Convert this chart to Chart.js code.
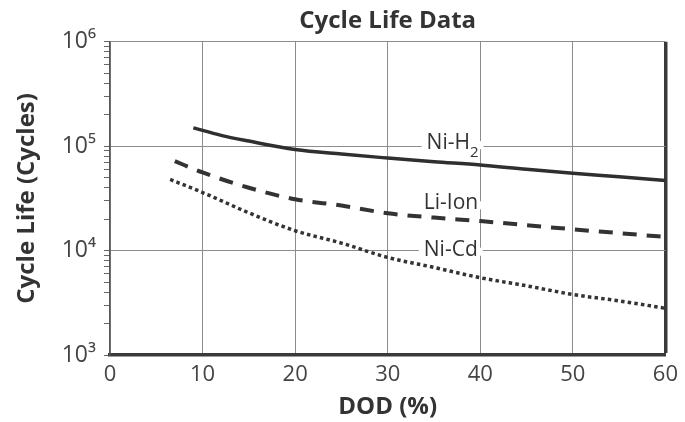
<!DOCTYPE html>
<html>
<head>
<meta charset="utf-8">
<script src="https://cdn.jsdelivr.net/npm/chart.js@4"></script>
<style>
  html, body { margin: 0; padding: 0; background: #fff; }
</style>
</head>
<body>
<canvas id="chart1" width="685" height="422"></canvas>
<script>
// x ticks and log-decade labels
const dodTicks = [0, 10, 20, 30, 40, 50, 60];
const lifeTickLabels = ['10³', '10⁴', '10⁵', '10⁶'];

// series (DOD %, cycles)
const nih2Dod  = [9, 12, 15, 20, 25, 30, 35, 40, 45, 50, 55, 60];
const nih2Life = [150000, 127000, 112000, 93000, 84000, 77000, 71000, 66000, 60000, 55000, 51000, 47000];

const liionDod  = [7, 10, 15, 20, 25, 30, 35, 40, 45, 50, 55, 60];
const liionLife = [72000, 56000, 40000, 31000, 27000, 22800, 20700, 19200, 17500, 16000, 14700, 13500];

const nicdDod  = [6.5, 10, 15, 20, 25, 30, 35, 40, 45, 50, 55, 60];
const nicdLife = [48000, 36000, 23000, 15500, 11800, 8600, 6900, 5500, 4600, 3800, 3300, 2800];

const seriesNames = ['Ni-H₂', 'Li-Ion', 'Ni-Cd'];
// in-plot labels: [text, subscript]
const curveLabelText = [['Ni-H', '2'], ['Li-Ion', ''], ['Ni-Cd', '']];
const curveLabelDod  = [34.2, 33.9, 33.9];
const curveLabelLife = [107000, 28400, 10200];

const FONT = '"Open Sans", "Noto Sans", sans-serif';

function toPoints(xs, ys) {
  return xs.map((x, i) => ({ x: x, y: ys[i] }));
}

// labels sit on the chart, with the grid line cut out behind them
const curveLabels = {
  id: 'curveLabels',
  beforeDatasetsDraw(chart) {
    const { ctx, scales: { x, y } } = chart;
    ctx.save();
    ctx.textBaseline = 'middle';
    ctx.textAlign = 'left';
    curveLabelText.forEach((t, i) => {
      const px = x.getPixelForValue(curveLabelDod[i]);
      const py = y.getPixelForValue(curveLabelLife[i]);
      ctx.font = '21px ' + FONT;
      const w1 = ctx.measureText(t[0]).width;
      ctx.font = '15px ' + FONT;
      const w2 = t[1] ? ctx.measureText(t[1]).width : 0;
      ctx.fillStyle = '#fff';
      ctx.fillRect(px - 5, py - 2, w1 + w2 + 10, 8);
      ctx.fillStyle = '#333';
      ctx.font = '21px ' + FONT;
      ctx.fillText(t[0], px, py);
      if (t[1]) {
        ctx.font = '15px ' + FONT;
        ctx.fillText(t[1], px + w1, py + 10);
      }
    });
    ctx.restore();
  }
};

const ctx1 = document.getElementById('chart1').getContext('2d');
const chart1 = new Chart(ctx1, {
  type: 'line',
  data: {
    datasets: [{
      label: seriesNames[0],
      data: toPoints(nih2Dod, nih2Life),
      borderColor: '#2f2f2f',
      borderWidth: 3.5,
    }, {
      label: seriesNames[1],
      data: toPoints(liionDod, liionLife),
      borderColor: '#333',
      borderWidth: 4,
      borderDash: [14, 10],
    }, {
      label: seriesNames[2],
      data: toPoints(nicdDod, nicdLife),
      borderColor: '#333',
      borderWidth: 3.5,
      borderDash: [3.5, 3.2],
    }]
  },
  options: {
    responsive: false,
    animation: false,
    layout: { padding: { left: 0, right: 17, top: 0, bottom: 0 } },
    elements: {
      point: { radius: 0 },
      line: { cubicInterpolationMode: 'monotone', fill: false, borderCapStyle: 'butt' }
    },
    plugins: {
      legend: { display: false },
      tooltip: { enabled: false },
      title: {
        display: true,
        text: 'Cycle Life Data',
        fullSize: false,
        color: '#333',
        font: { family: FONT, size: 24, weight: 'bold' },
        padding: { top: 7, bottom: 6 }
      }
    },
    scales: {
      x: {
        type: 'linear',
        min: 0,
        max: 60,
        afterBuildTicks(scale) { scale.ticks = dodTicks.map(v => ({ value: v })); },
        afterFit(scale) { scale.height = 67; },
        ticks: { color: '#444', font: { family: FONT, size: 22 }, padding: 7 },
        grid: {
          color: c => (c.tick && c.tick.value === 60) ? '#3a3a3a' : '#8c8c8c',
          lineWidth: c => (c.tick && c.tick.value === 60) ? 3.5 : 1,
          drawTicks: false
        },
        border: { color: '#3a3a3a', width: 3.5 },
        title: {
          display: true,
          text: 'DOD (%)',
          color: '#333',
          font: { family: FONT, size: 24, weight: 'bold' },
          padding: { top: 0, bottom: 0 }
        }
      },
      y: {
        type: 'logarithmic',
        min: 1000,
        max: 1000000,
        afterBuildTicks(scale) {
          const ticks = [];
          for (let e = 3; e < 6; e++) {
            for (let m = 1; m < 10; m++) ticks.push({ value: m * Math.pow(10, e), major: m === 1 });
          }
          ticks.push({ value: 1000000, major: true });
          scale.ticks = ticks;
        },
        afterFit(scale) { scale.width = 110; },
        ticks: {
          autoSkip: false,
          color: '#444',
          font: { family: FONT, size: 23 },
          padding: 8,
          callback: (v) => {
            const e = Math.round(Math.log10(v));
            return Math.pow(10, e) === v ? lifeTickLabels[e - 3] : '';
          }
        },
        grid: {
          color: c => (c.tick && c.tick.major) ? '#8c8c8c' : 'rgba(0,0,0,0)',
          tickColor: '#666',
          tickLength: 6,
          tickWidth: 1
        },
        border: { color: '#555', width: 1.5 },
        title: {
          display: true,
          text: 'Cycle Life (Cycles)',
          color: '#333',
          font: { family: FONT, size: 24, weight: 'bold' },
          padding: { top: 13, bottom: 0 }
        }
      }
    }
  },
  plugins: [curveLabels]
});
</script>
</body>
</html>
